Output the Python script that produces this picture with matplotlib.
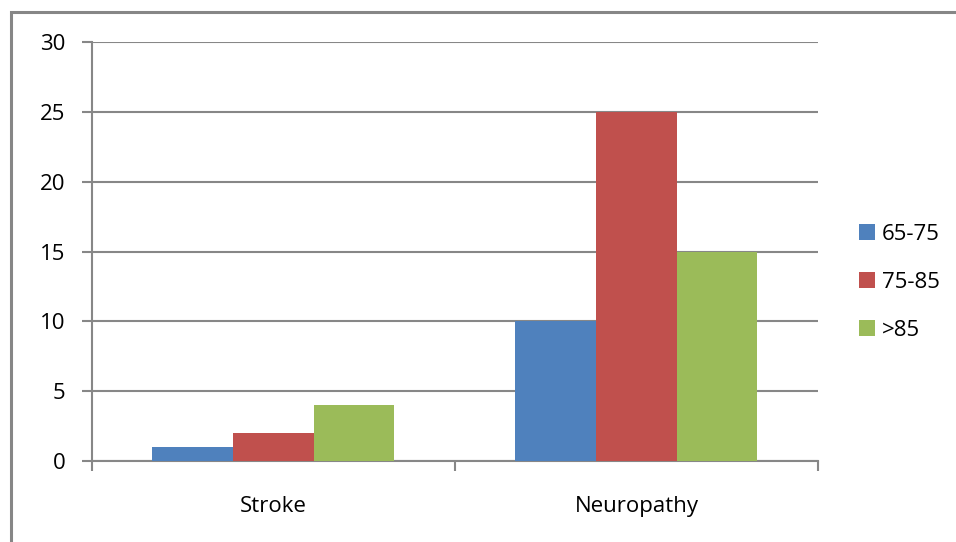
import numpy as np
import matplotlib.pyplot as plt
from matplotlib.patches import Rectangle, Patch

categories = ["Stroke", "Neuropathy"]
series_names = ["65-75", "75-85", ">85"]
age_65_75 = [1, 10]
age_75_85 = [2, 25]
age_85_plus = [4, 15]
colors = ["#4F81BD", "#C0504D", "#9BBB59"]

plt.rcParams['font.family'] = ['Open Sans', 'DejaVu Sans']

fig = plt.figure(figsize=(9.56, 5.42), dpi=100)
ax = fig.add_axes([0.0962, 0.1494, 0.7594, 0.7731])

# outer chart border (cut off at right and bottom like the original)
fig.patches.append(Rectangle((11 / 956, -0.1), 1.2, (542 - 12) / 542 + 0.1,
                             transform=fig.transFigure, fill=False,
                             edgecolor="#868686", linewidth=2.2, zorder=0))

x = np.arange(len(categories))
bar_w = 0.2222
all_series = [age_65_75, age_75_85, age_85_plus]
for i, (vals, name, c) in enumerate(zip(all_series, series_names, colors)):
    ax.bar(x + (i - 1) * bar_w, vals, width=bar_w, color=c, label=name, zorder=3)

grid_color = "#878787"
ax.set_xlim(-0.5, len(categories) - 0.5)
ax.set_ylim(0, 30)
ax.set_yticks(range(0, 31, 5))
ax.yaxis.grid(True, color=grid_color, linewidth=1.5, zorder=0)
ax.set_axisbelow(True)

ax.set_xticks(x)
ax.set_xticklabels(categories)
ax.set_xticks(np.arange(len(categories) + 1) - 0.5, minor=True)
ax.tick_params(axis='x', which='major', length=0, pad=25, labelsize=16)
ax.tick_params(axis='x', which='minor', length=7, width=1.5, color=grid_color, direction='out')
ax.tick_params(axis='y', length=7, width=1.5, color=grid_color, labelsize=16, pad=12)

for s in ["top", "right"]:
    ax.spines[s].set_visible(False)
for s in ["left", "bottom"]:
    ax.spines[s].set_color(grid_color)
    ax.spines[s].set_linewidth(1.5)

handles = [Patch(facecolor=c, label=n) for c, n in zip(colors, series_names)]
fig.legend(handles=handles, loc="center left", bbox_to_anchor=(0.878, 0.479),
           frameon=False, fontsize=16, handlelength=0.7, handleheight=0.7,
           handletextpad=0.3, labelspacing=1.22)

fig.savefig("out.png", dpi=100)
